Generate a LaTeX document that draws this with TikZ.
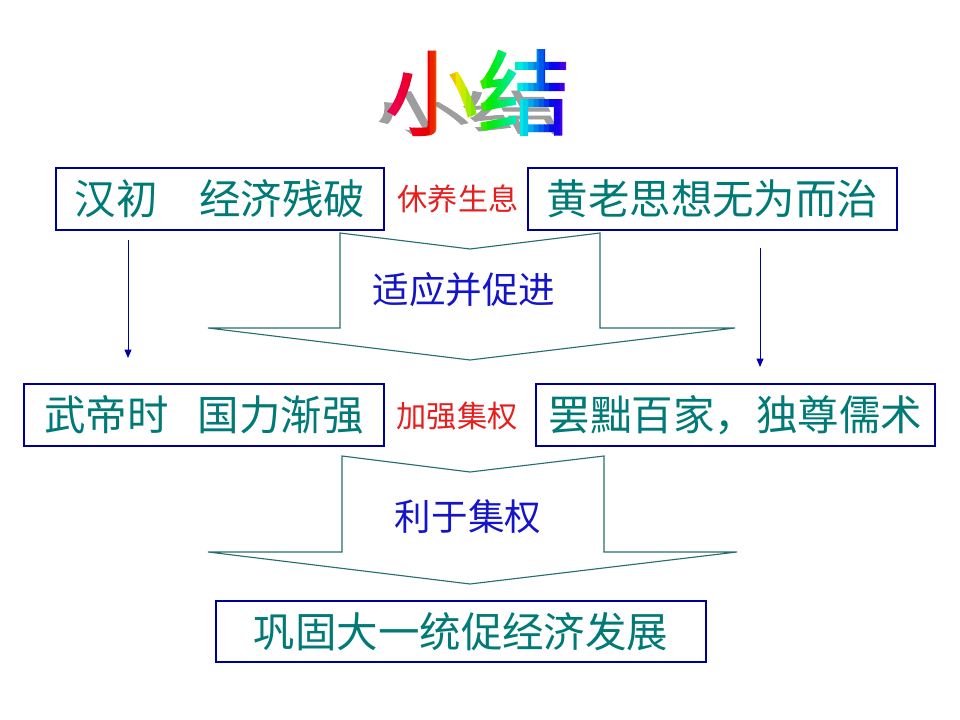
\documentclass[tikz,border=0pt]{standalone}
\usepackage{fontspec}
\newfontfamily\cjk{Noto Sans CJK SC}
\newfontfamily\cjkheavy{Noto Sans CJK SC}[FakeBold=1.5]
\usetikzlibrary{arrows.meta}
\selectcolormodel{rgb}
\definecolor{boxtext}{RGB}{0,122,118}
\definecolor{boxline}{RGB}{0,0,150}
\definecolor{bigarrow}{RGB}{40,110,110}
\definecolor{linkred}{RGB}{230,30,30}
\definecolor{linkblue}{RGB}{20,20,200}
\definecolor{thinarrow}{RGB}{0,0,170}
\tikzset{
box/.style={draw=boxline,line width=1pt,inner sep=0pt,text=boxtext,font=\cjk\fontsize{29.5}{30}\selectfont},
redlabel/.style={text=linkred,inner sep=0pt,font=\cjk\fontsize{21.5}{22}\selectfont},
bluelabel/.style={text=linkblue,inner sep=0pt,font=\cjk\fontsize{26}{27}\selectfont},
blockarrow/.style={draw=bigarrow,line width=0.8pt,fill=white},
downlink/.style={-{Triangle[length=6pt,width=5pt]},thinarrow,line width=0.7pt},
titletext/.style={inner sep=0pt,font=\cjkheavy\fontsize{66}{66}\selectfont},
shadowtext/.style={text=black!38,inner sep=0pt,font=\cjkheavy\fontsize{66}{66}\selectfont}
}

\begin{document}
\begin{tikzpicture}[x=0.025cm,y=-0.025cm]
\useasboundingbox (0,0) rectangle (960,720);
\begin{scope}[shift={(474,130)},xslant=-0.55,yscale=0.5]
\node[shadowtext,transform shape,anchor=base] (shadow) at (0,0) {小结};
\end{scope}
\foreach \i in {0,...,36} {
\pgfmathsetmacro\xc{383+\i*5.2}
\pgfmathsetmacro\hue{\xc<425 ? mod(335+(\xc-383)*0.6,360) : min((\xc-425)*1.9,280)}
\definecolor{strip}{Hsb}{\hue,1,0.92}
\begin{scope}
\clip (\xc-0.3,40) rectangle (\xc+5.5,150);
\node[titletext,text=strip,anchor=base] (title\i) at (478,128) {小结};
\end{scope}
}
\draw[blockarrow] (340,233) -- (470,249) -- (600,233) -- (600,328) -- (735,328) -- (470,360) -- (208,328) -- (340,328) -- cycle;
\draw[blockarrow] (342,456) -- (470,472) -- (604,456) -- (604,552) -- (737,552) -- (470,584) -- (208,552) -- (342,552) -- cycle;
\node[box,minimum width=8.2cm,minimum height=1.55cm] (hanchu) at (220,199) {汉初\hspace{1em}经济残破};
\node[box,minimum width=9.225cm,minimum height=1.55cm] (huanglao) at (712.5,199) {黄老思想无为而治};
\node[box,minimum width=9cm,minimum height=1.55cm] (wudi) at (204,415) {武帝时\hspace{0.7em}国力渐强};
\node[box,minimum width=9.975cm,minimum height=1.55cm] (rushu) at (735.5,415) {罢黜百家，独尊儒术};
\node[box,minimum width=12.25cm,minimum height=1.525cm] (tongyi) at (461,631.5) {巩固大一统促经济发展};
\node[redlabel] (xiuyang) at (458,199) {休养生息};
\node[redlabel] (jiaqiang) at (457,416) {加强集权};
\node[bluelabel] (shiying) at (464,290) {适应并促进};
\node[bluelabel] (liyu) at (468,517) {利于集权};
\coordinate (la) at (128,240);
\coordinate (lb) at (128,358);
\coordinate (ra) at (760,248);
\coordinate (rb) at (760,367);
\draw[downlink] (la) -- (lb);
\draw[downlink] (ra) -- (rb);
\end{tikzpicture}
\end{document}
